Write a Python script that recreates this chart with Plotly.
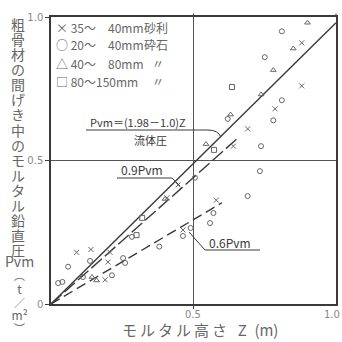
import plotly.graph_objects as go

# ---- data ----
gravel_x = [0.88, 0.88, 0.786, 0.69, 0.64, 0.58, 0.463, 0.446, 0.407, 0.207, 0.20, 0.09, 0.14, 0.19]
gravel_y = [0.91, 0.76, 0.68, 0.61, 0.55, 0.362, 0.258, 0.415, 0.37, 0.18, 0.146, 0.18, 0.19, 0.084]

crushed_x = [0.81, 0.75, 0.81, 0.78, 0.62, 0.737, 0.733, 0.69, 0.505, 0.57, 0.558, 0.49, 0.463,
             0.284, 0.253, 0.26, 0.137, 0.06, 0.112, 0.214, 0.025, 0.04, 0.38]
crushed_y = [0.95, 0.86, 0.71, 0.64, 0.645, 0.55, 0.463, 0.376, 0.44, 0.317, 0.282, 0.265, 0.237,
             0.234, 0.16, 0.143, 0.15, 0.13, 0.094, 0.10, 0.073, 0.077, 0.20]

tri_x = [0.90, 0.85, 0.78, 0.737, 0.63, 0.544, 0.40, 0.144, 0.16]
tri_y = [0.98, 0.89, 0.815, 0.73, 0.66, 0.557, 0.366, 0.094, 0.082]

sq_x = [0.635, 0.572, 0.32, 0.30]
sq_y = [0.756, 0.537, 0.30, 0.24]

coef_full = 1.98 - 1.0
line_factors = [1.0, 0.9, 0.6]
line_xmax = [1.0, 0.66, 0.60]
line_dash = ["solid", "14px,4px", "10px,5px"]

legend_symbols = ["×", "○", "△", "□"]
legend_sizes = ["35～\u300040mm", "20～\u300040mm", "40～\u300080mm", "80～150mm"]
legend_kinds = ["砂利", "砕石", "〃", "〃"]
ylabel_chars = list("粗骨材の間げき中のモルタル鉛直圧")
ylabel_tail = ["Pvm", "︵", "t", "／", "m²", "︶"]
xlabel = "モ\u2009ル\u2009タ\u2009ル\u2009高\u2009さ\u2002 Z\u2002(m)"

# ---- figure ----
W, H = 342, 342
L, R, T, B = 51, 6, 17, 38
PW, PH = W - L - R, H - T - B
def px(x): return (x - L) / PW
def py(y): return (H - B - y) / PH

ink = "#3a3a3a"
gray = "#666"
jp = "Noto Sans CJK JP"

fig = go.Figure()
for f, xm, d in zip(line_factors, line_xmax, line_dash):
    k = coef_full * f
    fig.add_trace(go.Scatter(x=[0, xm], y=[0, k * xm], mode="lines",
                             line=dict(color=ink, width=1.4, dash=d), showlegend=False))

mk = dict(color=gray, size=5, line=dict(color=gray, width=1))
fig.add_trace(go.Scatter(x=gravel_x, y=gravel_y, mode="markers",
                         marker=dict(symbol="x-thin-open", **mk), showlegend=False))
fig.add_trace(go.Scatter(x=crushed_x, y=crushed_y, mode="markers",
                         marker=dict(symbol="circle-open", **mk), showlegend=False))
fig.add_trace(go.Scatter(x=tri_x, y=tri_y, mode="markers",
                         marker=dict(symbol="triangle-up-open", **mk), showlegend=False))
fig.add_trace(go.Scatter(x=sq_x, y=sq_y, mode="markers",
                         marker=dict(symbol="square-open", **mk), showlegend=False))

ann = []
for i, (s, sz, kd) in enumerate(zip(legend_symbols, legend_sizes, legend_kinds)):
    yy = py(27 + 18 * i)
    ann.append(dict(x=px(54), y=yy, xref="paper", yref="paper", text=s + " " + sz,
                    showarrow=False, xanchor="left", yanchor="middle",
                    font=dict(family=jp, size=12, color=gray)))
    kx = 142 if kd != "〃" else 150
    ann.append(dict(x=px(kx), y=yy, xref="paper", yref="paper", text=kd,
                    showarrow=False, xanchor="left", yanchor="middle",
                    font=dict(family=jp, size=12, color=gray)))

# vertical y-axis title: line pitch from block font size, glyphs enlarged by span
chars_text = "<br>".join(f'<span style="font-size:14px">{c}</span>' for c in ylabel_chars)
ann.append(dict(x=px(18), y=py(13), xref="paper", yref="paper", text=chars_text,
                showarrow=False, xanchor="center", yanchor="top", borderpad=0,
                font=dict(family=jp, size=11.6, color=gray)))
tail_sizes = [14, 11, 12, 11, 12, 11]
tail_text = "<br>".join(f'<span style="font-size:{s}px">{c}</span>' for c, s in zip(ylabel_tail, tail_sizes))
ann.append(dict(x=px(19), y=py(250), xref="paper", yref="paper", text=tail_text,
                showarrow=False, xanchor="center", yanchor="top", borderpad=0,
                font=dict(family=jp, size=10.2, color=gray)))

# in-plot labels
ann.append(dict(x=px(88), y=py(122), xref="paper", yref="paper", text="Pvm＝(1.98－1.0)Z",
                showarrow=False, xanchor="left", yanchor="middle",
                font=dict(family=jp, size=11, color=ink)))
ann.append(dict(x=px(150), y=py(140), xref="paper", yref="paper", text="流体圧",
                showarrow=False, xanchor="center", yanchor="middle",
                font=dict(family=jp, size=11, color=ink)))
ann.append(dict(x=px(119), y=py(169), xref="paper", yref="paper", text="0.9Pvm",
                showarrow=False, xanchor="left", yanchor="middle",
                font=dict(family=jp, size=12, color=ink)))
ann.append(dict(x=px(207), y=py(242), xref="paper", yref="paper", text="0.6Pvm",
                showarrow=False, xanchor="left", yanchor="middle",
                font=dict(family=jp, size=12, color=ink)))
# axis labels
ann.append(dict(x=px(200), y=py(341), xref="paper", yref="paper", text=xlabel,
                showarrow=False, xanchor="center", yanchor="bottom", borderpad=0,
                font=dict(family=jp, size=15, color=gray)))
ann.append(dict(x=px(193), y=py(314), xref="paper", yref="paper", text="0.5",
                showarrow=False, xanchor="center", yanchor="middle",
                font=dict(family="DejaVu Sans", size=10, color="#888")))
ann.append(dict(x=px(332), y=py(314), xref="paper", yref="paper", text="1.0",
                showarrow=False, xanchor="center", yanchor="middle",
                font=dict(family="DejaVu Sans", size=10, color="#888")))

shapes = [
    dict(type="path", xref="paper", yref="paper", line=dict(color=ink, width=1),
         path=f"M {px(86)},{py(130)} L {px(208)},{py(130)} Q {px(218)},{py(130)} {px(221)},{py(137)}"),
    dict(type="line", xref="paper", yref="paper", x0=px(117), y0=py(178), x1=px(172), y1=py(178),
         line=dict(color=ink, width=1)),
    dict(type="line", xref="paper", yref="paper", x0=px(172), y0=py(178), x1=px(180), y1=py(186),
         line=dict(color=ink, width=1)),
    dict(type="line", xref="paper", yref="paper", x0=px(205), y0=py(250), x1=px(260), y1=py(250),
         line=dict(color=ink, width=1)),
    dict(type="line", xref="paper", yref="paper", x0=px(205), y0=py(250), x1=px(189), y1=py(232),
         line=dict(color=ink, width=1)),
    dict(type="line", xref="paper", yref="paper", x0=0.5, y0=1, x1=0.5, y1=1.012,
         line=dict(color=ink, width=1)),
    dict(type="line", xref="paper", yref="paper", x0=1, y0=1, x1=1, y1=1.012,
         line=dict(color=ink, width=1)),
]

fig.update_layout(
    width=W, height=H, margin=dict(l=L, r=R, t=T, b=B, autoexpand=False),
    paper_bgcolor="white", plot_bgcolor="white",
    annotations=ann, shapes=shapes,
    xaxis=dict(range=[0, 1], showline=True, mirror=True, linecolor=ink, linewidth=1.5,
               showgrid=True, gridcolor="#555", gridwidth=1, tickvals=[0.5], showticklabels=False,
               ticks="outside", ticklen=3, tickcolor=ink, zeroline=False, fixedrange=True,
               automargin=False),
    yaxis=dict(range=[0, 1], showline=True, mirror=True, linecolor=ink, linewidth=1.5,
               showgrid=True, gridcolor="#555", gridwidth=1, tickvals=[0, 0.5, 1.0],
               ticktext=["0", "0.5", "1.0"], ticks="outside", ticklen=4, tickcolor=ink,
               tickfont=dict(family="DejaVu Sans", size=10, color="#888"),
               zeroline=False, fixedrange=True, automargin=False),
)
fig.write_html("out.html", config={"displayModeBar": False},
               post_script="document.body.style.margin='0px';document.body.style.overflow='hidden';")
